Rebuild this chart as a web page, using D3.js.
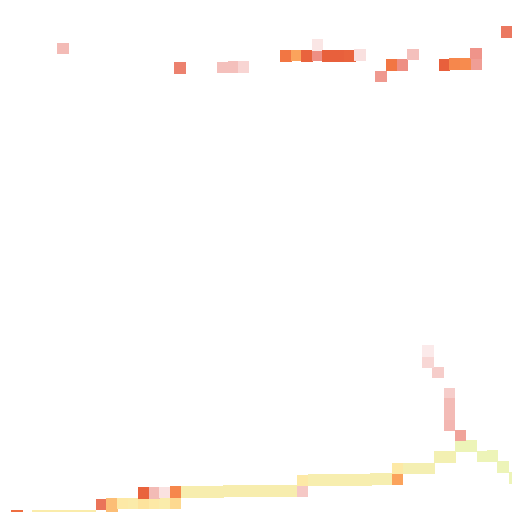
<!DOCTYPE html>
<html>
<head>
<meta charset="utf-8">
<script src="https://cdn.jsdelivr.net/npm/d3@7"></script>
<style>
  body { margin: 0; background: #fff; }
  svg { display: block; }
</style>
</head>
<body>
<svg id="chart"></svg>
<script>
const width = 512;
const height = 512;

// cell centres (column / row units) and their colour level
const cellX = [
  5.91, 16.87, 20.86, 21.89, 22.83,
  26.81, 27.80, 28.78, 29.77, 29.77, 30.75, 31.78, 32.81, 33.75,
  35.72, 36.70, 37.73, 38.72,
  41.67, 42.66, 43.64, 44.67, 44.62, 47.53,
  1.59, 3.56, 4.55, 5.53, 6.52, 7.50, 8.48,
  9.52, 10.50, 10.50, 11.53, 12.56, 13.50, 14.48, 15.47, 16.45,
  13.50, 14.48, 15.47, 16.45,
  17.48, 18.47, 19.45, 20.44, 21.42, 22.41, 23.39, 24.37, 25.36, 26.34, 27.33,
  28.36, 28.36,
  29.39, 30.37, 31.36, 32.34, 33.33, 34.31, 35.20, 36.19,
  37.26, 37.26,
  38.30, 39.28, 40.26,
  41.20, 42.23,
  43.22, 44.20,
  45.23, 46.17, 47.16, 48.23,
  43.17, 42.14, 42.14, 42.14, 42.14,
  41.06, 40.12, 40.12
];

const cellY = [
  43.45, 41.62, 41.67, 41.72, 41.72,
  42.75, 42.80, 42.75, 42.80, 43.78, 42.75, 42.75, 42.75, 42.84,
  40.83, 41.91, 41.91, 42.89,
  41.91, 42.00, 42.00, 42.00, 42.98, 45.00,
  -0.37, -0.33, -0.33, -0.33, -0.33, -0.33, -0.33,
  0.70, 0.75, -0.28, 0.80, 0.80, 0.80, 0.80, 0.80, 0.84,
  1.78, 1.78, 1.83, 1.87,
  1.87, 1.87, 1.87, 1.87, 1.97, 1.97, 1.97, 1.97, 1.97, 1.97, 1.97,
  1.97, 2.95,
  3.00, 3.00, 3.00, 3.00, 3.00, 3.00, 3.09, 3.09,
  3.09, 4.08,
  4.08, 4.08, 4.08,
  5.16, 5.16,
  6.19, 6.19,
  5.20, 5.25, 4.22, 3.19,
  7.17, 11.11, 10.12, 9.14, 8.11,
  13.08, 14.06, 15.09
];

const cellValue = [
  1.1, 2.3, 1.0, 1.0, 0.5,
  3.8, 5.0, 3.1, 2.0, 0.1, 3.0, 3.0, 3.1, 0.25,
  1.8, 3.8, 2.0, 1.0,
  3.0, 4.3, 4.4, 1.7, 1.9, 2.5,
  3.5, 7.5, 7.5, 7.5, 7.5, 7.5, 7.5,
  2.6, 5.5, 5.5, 7.0, 7.3, 6.6, 7.0, 7.5, 6.0,
  3.1, 1.1, 0.2, 4.3,
  7.8, 7.8, 7.8, 7.8, 7.8, 7.8, 7.8, 7.8, 7.8, 7.8, 7.8,
  0.8, 7.0,
  7.9, 7.9, 7.9, 7.9, 7.9, 7.9, 8.0, 8.0,
  5.0, 7.0,
  8.2, 8.2, 8.2,
  8.3, 8.3,
  9.0, 9.0,
  9.0, 9.0, 9.0, 9.0,
  1.6, 0.7, 1.1, 1.1, 1.2,
  0.7, 0.45, 0.0
];

const levelColors = [
  '#fbeaea', '#f4c0bc', '#ee8f84', '#e8603c', '#f47b45',
  '#fba35c', '#fdd990', '#fde9a6', '#f6eeb0', '#edf4b8'
];

const cells = cellX.map((x, i) => ({ x, y: cellY[i], v: cellValue[i] }));

const xScale = d3.scaleLinear().domain([0, 48]).range([0, width]);
const yScale = d3.scaleLinear().domain([0, 48]).range([height, 0]);
const color = d3.scaleLinear()
  .domain(d3.range(levelColors.length))
  .range(levelColors)
  .interpolate(d3.interpolateRgb)
  .clamp(true);

// a touch bigger than one unit so neighbouring cells close up
const size = (xScale(1) - xScale(0)) + 0.6;

const svg = d3.select('#chart')
  .attr('width', width)
  .attr('height', height);

svg.append('g')
  .attr('shape-rendering', 'crispEdges')
  .selectAll('rect')
  .data(cells)
  .join('rect')
  .attr('x', d => xScale(d.x) - size / 2)
  .attr('y', d => yScale(d.y) - size / 2)
  .attr('width', size)
  .attr('height', size)
  .attr('fill', d => color(d.v));
</script>
</body>
</html>
